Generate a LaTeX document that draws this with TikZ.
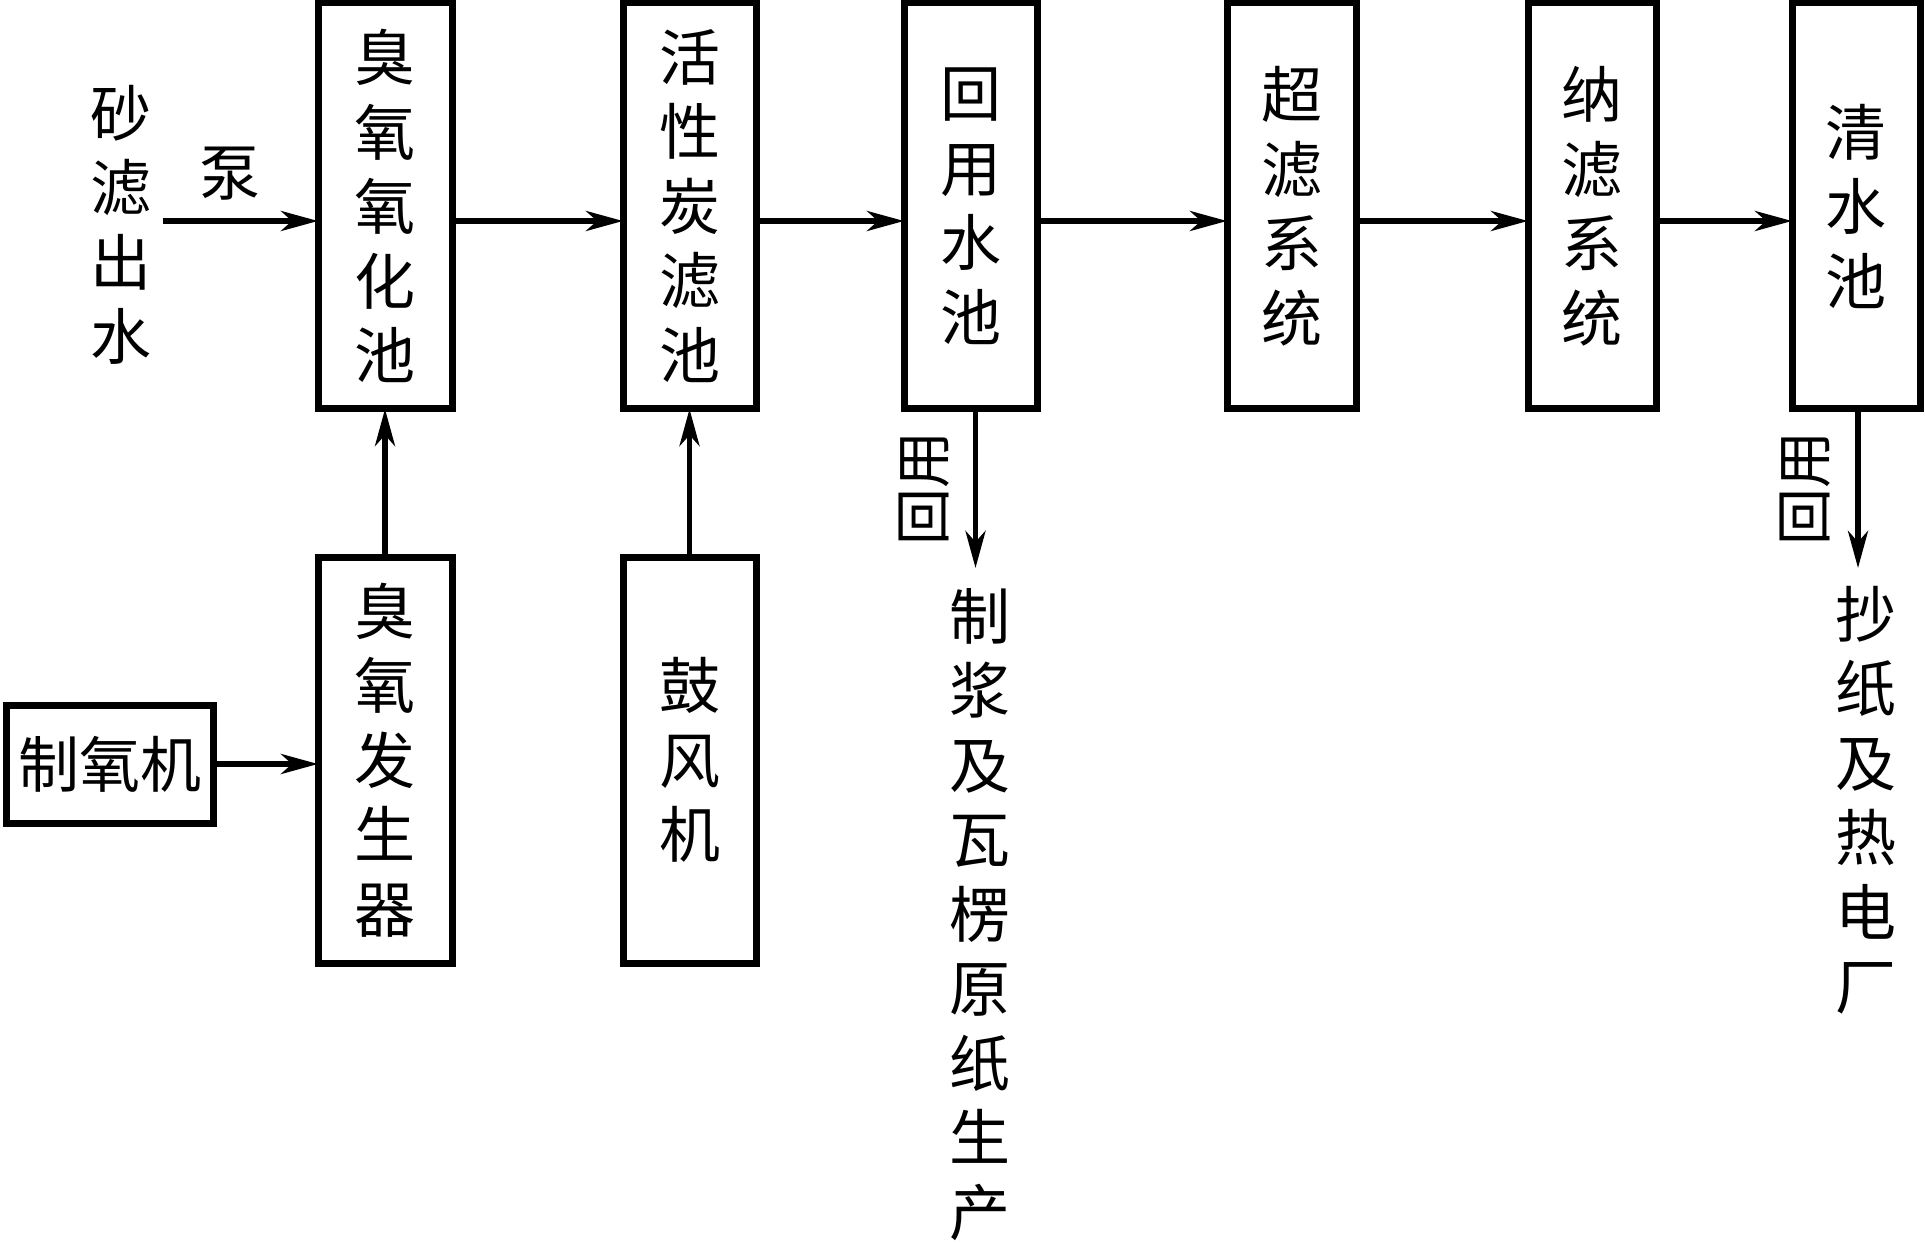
\documentclass[tikz,border=0pt]{standalone}
\usepackage{fontspec}
\newfontfamily\cjk{Noto Sans CJK SC}
\usetikzlibrary{arrows.meta}
\tikzset{
  box/.style={draw, line width=7pt, inner sep=0pt, outer sep=0pt, font=\cjk\fontsize{61pt}{74.5pt}\selectfont, align=center},
  txt/.style={inner sep=0pt, font=\cjk\fontsize{61pt}{74.5pt}\selectfont, align=center},
  lbl/.style={inner sep=0pt, rotate=90, font=\cjk\fontsize{57pt}{57pt}\selectfont},
  arr/.style={line width=5.5pt, -{Stealth[length=37pt, width=20pt, inset=11pt]}},
}
\begin{document}
\begin{tikzpicture}[x=1pt,y=-1pt]
\useasboundingbox (0,0) rectangle (1925,1246);
% main boxes
\node[box, minimum width=134pt, minimum height=406pt] (b1) at (385,206) {臭\\氧\\氧\\化\\池};
\node[box, minimum width=133pt, minimum height=406pt] (b2) at (689.5,206) {活\\性\\炭\\滤\\池};
\node[box, minimum width=133pt, minimum height=406pt] (b3) at (970.5,206) {回\\用\\水\\池};
\node[box, minimum width=129pt, minimum height=406pt] (b4) at (1291.5,206) {超\\滤\\系\\统};
\node[box, minimum width=128pt, minimum height=406pt] (b5) at (1592,206) {纳\\滤\\系\\统};
\node[box, minimum width=128pt, minimum height=406pt] (b6) at (1856,206) {清\\水\\池};
\node[box, minimum width=134pt, minimum height=406pt] (b7) at (385,760) {臭\\氧\\发\\生\\器};
\node[box, minimum width=133pt, minimum height=406pt] (b8) at (689.5,760) {鼓\\风\\机};
\node[box, minimum width=207pt, minimum height=118pt] (b9) at (109.5,764) {制氧机};
% texts
\node[txt] (src) at (121,225) {砂\\滤\\出\\水};
\node[txt] (pump) at (230,174) {泵};
\node[lbl] (r1) at (924.5,488) {回用};
\node[lbl] (r2) at (1805,488) {回用};
\node[txt] (out1) at (980,914.5) {制\\浆\\及\\瓦\\楞\\原\\纸\\生\\产};
\node[txt] (out2) at (1866,800) {抄\\纸\\及\\热\\电\\厂};
% coordinates
\coordinate (m) at (0,221);
\coordinate (in) at (163,221);
\coordinate (d1) at (975.5,568);
\coordinate (d2) at (1858,568);
% connectors
\draw[arr] (in) -- (b1.west |- m);
\draw[arr] (b1.east |- m) -- (b2.west |- m);
\draw[arr] (b2.east |- m) -- (b3.west |- m);
\draw[arr] (b3.east |- m) -- (b4.west |- m);
\draw[arr] (b4.east |- m) -- (b5.west |- m);
\draw[arr] (b5.east |- m) -- (b6.west |- m);
\draw[arr] (b7.north) -- (b1.south);
\draw[arr] (b8.north) -- (b2.south);
\draw[arr] (b9.east) -- (b7.west |- b9.east);
\draw[arr] (b3.south -| d1) -- (d1);
\draw[arr] (b6.south -| d2) -- (d2);
\end{tikzpicture}
\end{document}
